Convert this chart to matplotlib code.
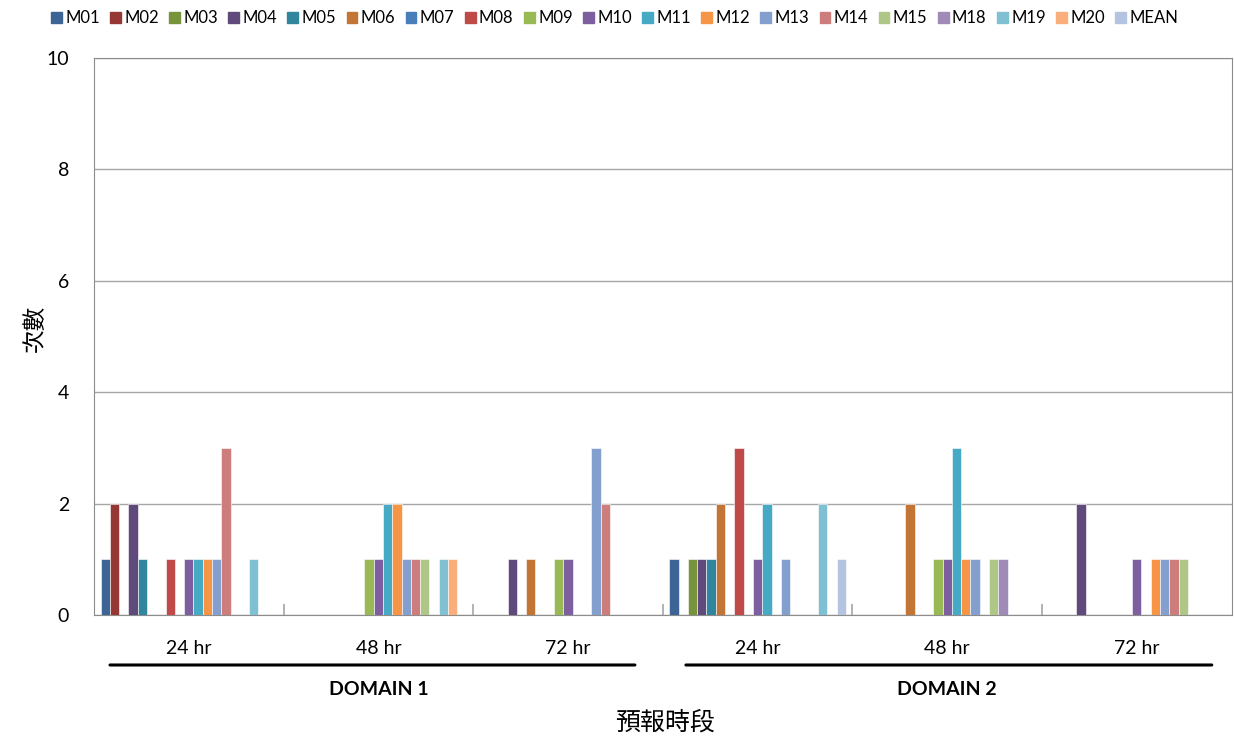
import numpy as np
import matplotlib.pyplot as plt
from matplotlib.patches import Patch

plt.rcParams['font.family'] = ['Lato', 'Noto Sans CJK TC', 'DejaVu Sans']

# counts per forecast period: D1 24/48/72 hr, D2 24/48/72 hr
periods = ['24 hr', '48 hr', '72 hr', '24 hr', '48 hr', '72 hr']
domains = ['DOMAIN 1', 'DOMAIN 2']
models = ['M01', 'M02', 'M03', 'M04', 'M05', 'M06', 'M07', 'M08', 'M09', 'M10',
          'M11', 'M12', 'M13', 'M14', 'M15', 'M18', 'M19', 'M20', 'MEAN']
m01 = [1, 0, 0, 1, 0, 0]
m02 = [2, 0, 0, 0, 0, 0]
m03 = [0, 0, 0, 1, 0, 0]
m04 = [2, 0, 1, 1, 0, 2]
m05 = [1, 0, 0, 1, 0, 0]
m06 = [0, 0, 1, 2, 2, 0]
m07 = [0, 0, 0, 0, 0, 0]
m08 = [1, 0, 0, 3, 0, 0]
m09 = [0, 1, 1, 0, 1, 0]
m10 = [1, 1, 1, 1, 1, 1]
m11 = [1, 2, 0, 2, 3, 0]
m12 = [1, 2, 0, 0, 1, 1]
m13 = [1, 1, 3, 1, 1, 1]
m14 = [3, 1, 2, 0, 0, 1]
m15 = [0, 1, 0, 0, 1, 1]
m18 = [0, 0, 0, 0, 1, 0]
m19 = [1, 1, 0, 2, 0, 0]
m20 = [0, 1, 0, 0, 0, 0]
mean = [0, 0, 0, 1, 0, 0]
series = [m01, m02, m03, m04, m05, m06, m07, m08, m09, m10,
          m11, m12, m13, m14, m15, m18, m19, m20, mean]

colors = ['#3C6494', '#953735', '#77933C', '#604A7B', '#31859C', '#C27535',
          '#4A7EBB', '#BE4B48', '#98B954', '#7D5FA0', '#46AAC5', '#F69546',
          '#829FCD', '#CD7E7C', '#AEC787', '#9F8AB8', '#7FC1D3', '#F9AE7C',
          '#B4C3E0']

fig = plt.figure(figsize=(12.34, 7.37), dpi=100)
ax = fig.add_axes([0.0762, 0.1655, 0.9218, 0.7558])

x = np.arange(len(periods))
n = len(series)
w = 0.049
for i, (vals, c) in enumerate(zip(series, colors)):
    ax.bar(x - (n / 2) * w + (i + 0.5) * w, vals, width=w, color=c,
           edgecolor='white', linewidth=0.4, zorder=3)

ax.set_xlim(-0.5, 5.5)
ax.set_ylim(0, 10)
ax.set_yticks(range(0, 11, 2))
ax.yaxis.grid(True, color='#A6A6A6', linewidth=1, zorder=0)
for s in ax.spines.values():
    s.set_color('#8C8C8C')
ax.tick_params(axis='y', length=0, labelsize=14, pad=18)

ax.set_xticks(x)
ax.set_xticklabels(periods, fontsize=14)
ax.tick_params(axis='x', which='major', length=0, pad=18)
ax.set_xticks(np.arange(0.5, 5.5, 1), minor=True)
ax.tick_params(axis='x', which='minor', direction='in', length=8,
               color='#A6A6A6', width=1.2)

fig.text(35 / 1234, 1 - 328 / 737, '次數', rotation=90, ha='center',
         va='center', fontsize=17)

# domain brackets under the period labels
spans = [(-0.416, 2.353), (2.622, 5.396)]
for k, (name, (x0, x1)) in enumerate(zip(domains, spans)):
    ax.annotate('', xy=(x1, 0.0977), xytext=(x0, 0.0977),
                xycoords=('data', 'figure fraction'),
                arrowprops=dict(arrowstyle='-', color='black', lw=2.2,
                                shrinkA=0, shrinkB=0))
    ax.annotate(name, xy=(1.0 + 3 * k, 0.065),
                xycoords=('data', 'figure fraction'),
                ha='center', va='center', fontsize=14, fontweight='bold')

fig.text(0.539, 0.0204, '預報時段', ha='center', va='center', fontsize=18)

handles = [Patch(color=c, label=m) for m, c in zip(models, colors)]
fig.legend(handles=handles, loc='center', bbox_to_anchor=(0.498, 0.975),
           ncol=n, frameon=False, fontsize=12, handlelength=0.65,
           handleheight=0.65, handletextpad=0.2, columnspacing=0.62)

fig.savefig('out.png', dpi=100)
